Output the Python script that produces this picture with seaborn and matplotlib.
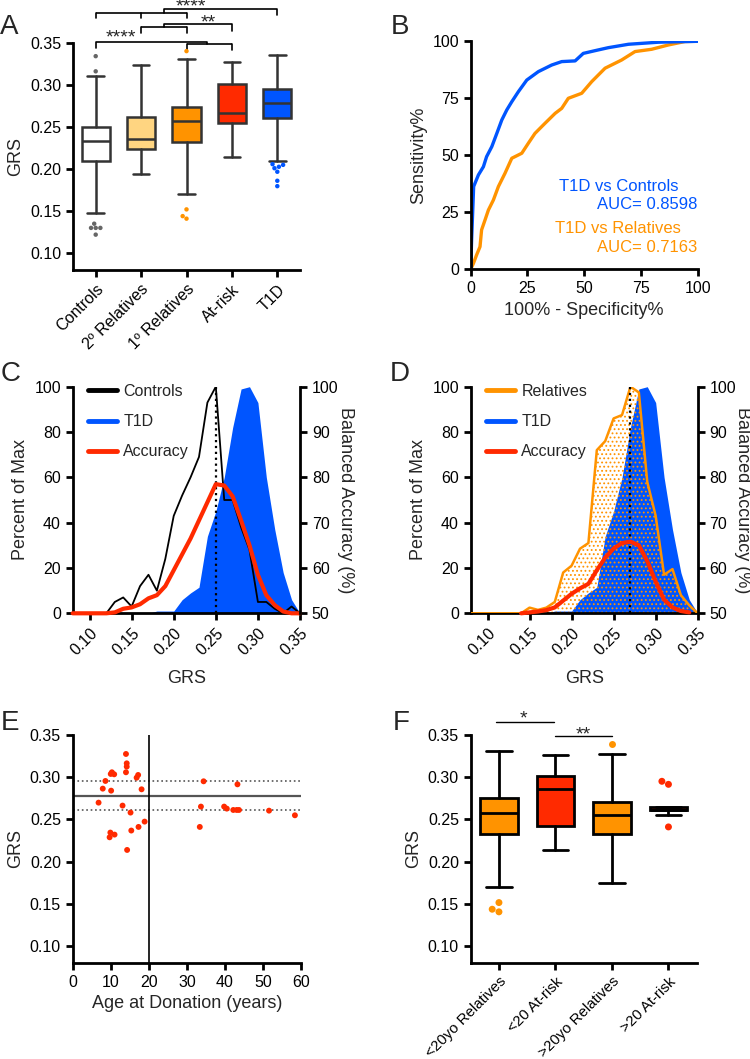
import numpy as np
import pandas as pd
import matplotlib
matplotlib.use("Agg")
import matplotlib.pyplot as plt
from matplotlib.lines import Line2D
import seaborn as sns

# ==========================================
# DATA
# ==========================================
# --- A: GRS by group (box stats) ---
GROUPS_A = ["Controls", "2º Relatives", "1º Relatives", "At-risk", "T1D"]
A_WHIS_LO = [0.148, 0.194, 0.170, 0.214, 0.210]
A_Q1 = [0.210, 0.224, 0.232, 0.255, 0.261]
A_MED = [0.233, 0.236, 0.2565, 0.266, 0.278]
A_Q3 = [0.250, 0.262, 0.2735, 0.3015, 0.295]
A_WHIS_HI = [0.310, 0.323, 0.331, 0.327, 0.335]
A_FLIER_GROUP = ["Controls"] * 7 + ["1º Relatives"] * 4 + ["T1D"] * 7
A_FLIER_VALUE = [0.334, 0.316, 0.135, 0.130, 0.130, 0.130, 0.122,
                 0.340, 0.152, 0.144, 0.141,
                 0.2057, 0.2049, 0.2026, 0.2009, 0.1967, 0.1860, 0.1796]
A_COLORS = ["#FFFFFF", "#FFD581", "#FF9300", "#FF2A00", "#0055FF"]
A_FLIER_COLORS = {"Controls": "#666666", "1º Relatives": "#FF9300", "T1D": "#0055FF"}

# --- B: ROC curves ---
ROC_CTRL_FPR = [0, 0.4, 1.3, 3.4, 5.6, 7, 9.3, 11.5, 13.7, 15.9, 18.1, 21, 24.7, 29.8,
                35.7, 40.1, 46, 49.6, 54.8, 60.6, 69.5, 82.7, 100]
ROC_CTRL_TPR = [0, 12.9, 36.3, 41.4, 45, 49.4, 53.8, 59.6, 65.5, 69.9, 73.5, 77.9, 83, 86.7,
                89.6, 91.1, 91.4, 94.7, 95.9, 97.2, 98.7, 99.6, 100]
ROC_REL_FPR = [0, 1.2, 2.6, 4.1, 4.8, 6.3, 7.8, 10, 12.2, 15.1, 18.1, 22.5, 25.4, 28.3, 32.7,
               37.2, 40.1, 43, 48.9, 53.3, 59.2, 66.5, 72.4, 79.7, 87.1, 94.4, 100]
ROC_REL_TPR = [0, 2.6, 6.3, 9.9, 17.3, 21.6, 26, 30.4, 36.3, 42.1, 48.7, 50.9, 55.3, 59.6, 64,
               68.4, 70.6, 75, 77.2, 82.3, 88.2, 91.8, 95.5, 96.5, 98.4, 99.9, 100]
AUC_CTRL = "0.8598"
AUC_REL = "0.7163"

# --- C / D: GRS distributions (percent of max) and balanced accuracy ---
GRS_BINS = [0.08, 0.09, 0.10, 0.11, 0.12, 0.13, 0.14, 0.15, 0.16, 0.17, 0.18, 0.19, 0.20, 0.21,
            0.22, 0.23, 0.24, 0.25, 0.26, 0.27, 0.28, 0.29, 0.30, 0.31, 0.32, 0.33, 0.34, 0.35]
CONTROLS_PCT = [0, 0, 0, 0, 0, 5, 7, 3, 12, 17, 10, 24, 43, 52,
                60, 69, 93, 100, 50, 50, 38, 28, 5, 5, 2, 0, 3, 0]
T1D_PCT = [0, 0, 0, 0, 0, 0, 0, 0, 0, 0, 1, 1, 1, 6,
           9, 11.5, 34, 45, 60, 82, 99, 100, 93, 60, 37, 18, 6, 0]
RELATIVES_PCT = [0, 0, 0, 0, 0, 0, 0, 2.5, 1.5, 2.5, 5, 18, 21, 28.5,
                 31, 72, 76, 86, 87.5, 100, 97.5, 58, 43, 17, 19.5, 8, 3.5, 0]
ACC_CTRL = [50, 50, 50, 50, 50, 50.2, 51, 51.3, 52, 53.3, 54, 56, 59.5, 63,
            66.5, 70.5, 74.5, 78.5, 78.2, 75.8, 70.5, 65, 58.5, 54, 51.8, 50.4, 50, 50]
ACC_REL = [np.nan, np.nan, np.nan, np.nan, np.nan, np.nan, 50, 50.2, 50.4, 50.7, 51.3, 52.8, 54.3, 55.5,
           56.5, 59.5, 62.3, 64.3, 65.5, 65.8, 65, 61.5, 57, 53, 51.3, 50.5, 50.2, np.nan]
CUTOFF_C = 0.25
CUTOFF_D = 0.27

# --- E: at-risk donors, GRS vs age ---
AGE_E = [6.8, 7.9, 8.6, 9.7, 9.9, 10.0, 10.1, 10.3, 10.9, 11.0, 13.1, 14.0, 14.2, 14.2, 14.0,
         14.3, 15.2, 15.4, 16.8, 17.2, 17.3, 18.1, 18.9,
         33.4, 33.7, 34.4, 39.8, 40.5, 42.2, 43.1, 43.3, 43.7, 51.6, 58.4]
GRS_E = [0.2698, 0.2864, 0.2955, 0.2287, 0.2343, 0.3038, 0.2840, 0.3058, 0.3034, 0.2319, 0.2663,
         0.3275, 0.3164, 0.3125, 0.3058, 0.2137, 0.2580, 0.2367, 0.2994, 0.3026, 0.2410, 0.2856,
         0.2473,
         0.2410, 0.2651, 0.2951, 0.2651, 0.2627, 0.2611, 0.2611, 0.2915, 0.2611, 0.2603, 0.2548]
AGE_CUT = 20

# --- F: split by age ---
GROUPS_F = ["<20yo Relatives", "<20 At-risk", ">20yo Relatives", ">20 At-risk"]
F_WHIS_LO = [0.1695, 0.2137, 0.1746, 0.2548]
F_Q1 = [0.2327, 0.2422, 0.2323, 0.2611]
F_MED = [0.2572, 0.2860, 0.2548, 0.2611]
F_Q3 = [0.2750, 0.3018, 0.2710, 0.2651]
F_WHIS_HI = [0.3310, 0.3267, 0.3279, 0.2651]
F_FLIER_GROUP = ["<20yo Relatives"] * 3 + [">20yo Relatives"] + [">20 At-risk"] * 3
F_FLIER_VALUE = [0.1513, 0.1434, 0.1403, 0.3397, 0.2951, 0.2915, 0.2410]
F_COLORS = ["#FF9300", "#FF2A00", "#FF9300", "#FF2A00"]
F_FLIER_COLORS = {"<20yo Relatives": "#FF9300", ">20yo Relatives": "#FF9300", ">20 At-risk": "#FF2A00"}

BLUE = "#0055FF"
ORANGE = "#FF9300"
RED = "#FF2A00"

# ==========================================
# STYLE
# ==========================================
sns.set_style("ticks")
plt.rcParams['font.family'] = ['Liberation Sans', 'DejaVu Sans']
plt.rcParams.update({
    'axes.linewidth': 2.0,
    'axes.edgecolor': 'black',
    'xtick.major.width': 2.0, 'ytick.major.width': 2.0,
    'xtick.major.size': 5, 'ytick.major.size': 5,
    'xtick.color': 'black', 'ytick.color': 'black',
    'xtick.labelsize': 11.5, 'ytick.labelsize': 11.5,
    'axes.labelsize': 13,
    'hatch.linewidth': 0.8,
})

W, H = 750, 1059
fig = plt.figure(figsize=(W / 100, H / 100), dpi=100)


def px_axes(left, top, right, bottom):
    return fig.add_axes([left / W, 1 - bottom / H, (right - left) / W, (bottom - top) / H])


def draw_boxes(ax, lo, q1, med, q3, hi, colors, edge, lw, width, capw):
    stats = [dict(whislo=a, q1=b, med=c, q3=d, whishi=e, fliers=[])
             for a, b, c, d, e in zip(lo, q1, med, q3, hi)]
    props = dict(color=edge, linewidth=lw)
    bp = ax.bxp(stats, positions=range(len(stats)), widths=width, capwidths=capw,
                patch_artist=True, showfliers=False,
                boxprops=dict(edgecolor=edge, linewidth=lw),
                medianprops=props, whiskerprops=props, capprops=props)
    for patch, c in zip(bp['boxes'], colors):
        patch.set_facecolor(c)


def bracket(ax, xs, y, drop, lw=1.2):
    # horizontal bar with downward ticks at every x in xs
    ax.plot([xs[0], xs[-1]], [y, y], color='black', lw=lw, clip_on=False, solid_capstyle='butt')
    for x in xs:
        ax.plot([x, x], [y, y - drop], color='black', lw=lw, clip_on=False)


# ==========================================
# A
# ==========================================
axA = px_axes(73, 42.7, 300, 270)
draw_boxes(axA, A_WHIS_LO, A_Q1, A_MED, A_Q3, A_WHIS_HI, A_COLORS, '#333333', 1.8, 0.62, 0.37)
fliersA = pd.DataFrame({'group': A_FLIER_GROUP, 'GRS': A_FLIER_VALUE})
sns.swarmplot(data=fliersA, x='group', y='GRS', order=GROUPS_A, hue='group',
              palette=A_FLIER_COLORS, size=3.2, legend=False, ax=axA)
axA.set_xlim(-0.5, 4.5)
axA.set_ylim(0.08, 0.35)
axA.set_yticks([0.10, 0.15, 0.20, 0.25, 0.30, 0.35])
axA.set_yticklabels(["0.10", "0.15", "0.20", "0.25", "0.30", "0.35"])
axA.set_xticks(range(5))
axA.set_xticklabels(GROUPS_A, rotation=45, ha='right', rotation_mode='anchor', fontsize=11.5)
axA.set_xlabel("")
axA.set_ylabel("GRS")
sns.despine(ax=axA)

# significance brackets
bracket(axA, [0, 1, 2], 0.3855, 0.0067)
axA.plot([1.5, 1.5, 4, 4], [0.3855, 0.3895, 0.3895, 0.3827], color='black', lw=1.2, clip_on=False)
axA.text(2.1, 0.4022, "****", ha='center', va='top', fontsize=14)
bracket(axA, [1, 2], 0.3682, 0.0071)
axA.plot([1.5, 1.5, 3, 3], [0.3682, 0.3721, 0.3721, 0.3642], color='black', lw=1.2, clip_on=False)
axA.text(2.47, 0.3832, "**", ha='center', va='top', fontsize=14)
bracket(axA, [2, 3], 0.3481, 0.0068)
axA.plot([0, 0, 2.45, 2.45], [0.3433, 0.3511, 0.3511, 0.3481], color='black', lw=1.2, clip_on=False)
axA.text(0.56, 0.3652, "****", ha='center', va='top', fontsize=14)

# ==========================================
# B
# ==========================================
axB = px_axes(470.7, 41.3, 697.7, 269.3)
sns.lineplot(x=ROC_REL_FPR, y=ROC_REL_TPR, sort=False, estimator=None, color=ORANGE, lw=2.4, ax=axB)
sns.lineplot(x=ROC_CTRL_FPR, y=ROC_CTRL_TPR, sort=False, estimator=None, color=BLUE, lw=2.4, ax=axB)
axB.set_xlim(0, 100)
axB.set_ylim(0, 100)
axB.set_xticks([0, 25, 50, 75, 100])
axB.set_yticks([0, 25, 50, 75, 100])
axB.set_xlabel("100% - Specificity%")
axB.set_ylabel("Sensitivity%")
sns.despine(ax=axB)
axB.text(39, 36.5, "T1D vs Controls", color=BLUE, fontsize=12, ha='left', va='center')
axB.text(100, 28.6, "AUC= " + AUC_CTRL, color=BLUE, fontsize=12, ha='right', va='center')
axB.text(37, 18.0, "T1D vs Relatives", color=ORANGE, fontsize=12, ha='left', va='center')
axB.text(100, 9.6, "AUC= " + AUC_REL, color=ORANGE, fontsize=12, ha='right', va='center')


# ==========================================
# C and D
# ==========================================
def dist_panel(ax, comp_pct, comp_label, comp_color, acc, cutoff, hatched):
    ax.fill_between(GRS_BINS, 0, T1D_PCT, color=BLUE, lw=0, zorder=1)
    if hatched:
        ax.fill_between(GRS_BINS, 0, comp_pct, facecolor='none', edgecolor=comp_color,
                        hatch='....', lw=0, zorder=2)
        sns.lineplot(x=GRS_BINS, y=comp_pct, color=comp_color, lw=1.8, ax=ax, zorder=3)
    else:
        sns.lineplot(x=GRS_BINS, y=comp_pct, color=comp_color, lw=1.3, ax=ax, zorder=3)
    ax.axvline(cutoff, color='black', ls=':', lw=1.6, zorder=4)
    ax.set_xlim(0.08, 0.35)
    ax.set_ylim(0, 100)
    ax.set_xticks([0.10, 0.15, 0.20, 0.25, 0.30, 0.35])
    ax.set_xticklabels(["0.10", "0.15", "0.20", "0.25", "0.30", "0.35"],
                       rotation=45, ha='right', rotation_mode='anchor')
    ax.set_yticks([0, 20, 40, 60, 80, 100])
    ax.set_xlabel("GRS", labelpad=9)
    ax.set_ylabel("Percent of Max")
    ax.spines['top'].set_visible(False)
    ax.spines['right'].set_visible(False)

    ax2 = ax.twinx()
    sns.lineplot(x=GRS_BINS, y=acc, color=RED, lw=3.0, ax=ax2, clip_on=False)
    ax2.set_ylim(50, 100)
    ax2.set_yticks([50, 60, 70, 80, 90, 100])
    ax2.set_ylabel("Balanced Accuracy (%)", rotation=270, labelpad=11)
    ax2.spines['top'].set_visible(False)
    ax2.spines['left'].set_visible(False)
    ax2.spines['bottom'].set_visible(False)

    handles = [Line2D([], [], color=comp_color, lw=3.5),
               Line2D([], [], color=BLUE, lw=3.5),
               Line2D([], [], color=RED, lw=3.5)]
    ax2.legend(handles, [comp_label, "T1D", "Accuracy"], loc='upper left',
               bbox_to_anchor=(0.068, 1.012), frameon=False, fontsize=11.5,
               handlelength=1.8, handletextpad=0.4, labelspacing=0.95,
               borderpad=0, borderaxespad=0)


axC = px_axes(72.7, 386.7, 300, 613.3)
dist_panel(axC, CONTROLS_PCT, "Controls", 'black', ACC_CTRL, CUTOFF_C, False)
axD = px_axes(470.7, 386.7, 697.7, 613.3)
dist_panel(axD, RELATIVES_PCT, "Relatives", ORANGE, ACC_REL, CUTOFF_D, True)

# ==========================================
# E
# ==========================================
axE = px_axes(72.7, 735, 301, 962.7)
axE.axhline(A_MED[4], color='#555555', lw=1.6, zorder=1)
axE.axhline(A_Q3[4], color='#555555', lw=1.2, ls=':', zorder=1)
axE.axhline(A_Q1[4], color='#555555', lw=1.2, ls=':', zorder=1)
axE.axvline(AGE_CUT, color='black', lw=1.2, zorder=1)
sns.scatterplot(x=AGE_E, y=GRS_E, color=RED, s=18, edgecolor='none', ax=axE, zorder=3)
axE.set_xlim(0, 60)
axE.set_ylim(0.08, 0.35)
axE.set_xticks([0, 10, 20, 30, 40, 50, 60])
axE.set_yticks([0.10, 0.15, 0.20, 0.25, 0.30, 0.35])
axE.set_yticklabels(["0.10", "0.15", "0.20", "0.25", "0.30", "0.35"])
axE.set_xlabel("Age at Donation (years)")
axE.set_ylabel("GRS")
sns.despine(ax=axE)

# ==========================================
# F
# ==========================================
axF = px_axes(470.7, 735, 696.7, 962.7)
draw_boxes(axF, F_WHIS_LO, F_Q1, F_MED, F_Q3, F_WHIS_HI, F_COLORS, 'black', 2.0, 0.66, 0.45)
fliersF = pd.DataFrame({'group': F_FLIER_GROUP, 'GRS': F_FLIER_VALUE})
sns.swarmplot(data=fliersF, x='group', y='GRS', order=GROUPS_F, hue='group',
              palette=F_FLIER_COLORS, size=5, legend=False, ax=axF)
axF.set_xlim(-0.5, 3.5)
axF.set_ylim(0.08, 0.35)
axF.set_yticks([0.10, 0.15, 0.20, 0.25, 0.30, 0.35])
axF.set_yticklabels(["0.10", "0.15", "0.20", "0.25", "0.30", "0.35"])
axF.set_xticks(range(4))
axF.set_xticklabels(GROUPS_F, rotation=45, ha='right', rotation_mode='anchor', fontsize=10.8)
axF.set_xlabel("")
axF.set_ylabel("GRS")
sns.despine(ax=axF)
axF.plot([-0.06, 0.97], [0.3658, 0.3658], color='black', lw=1.0, clip_on=False)
axF.text(0.44, 0.3785, "*", ha='center', va='top', fontsize=14)
axF.plot([1.0, 2.0], [0.3488, 0.3488], color='black', lw=1.0, clip_on=False)
axF.text(1.5, 0.3598, "**", ha='center', va='top', fontsize=14)

# panel letters
for letter, x, y in [("A", 0, 14), ("B", 391, 14), ("C", 1, 361),
                     ("D", 390, 361), ("E", 1, 710), ("F", 393, 710)]:
    fig.text(x / W, 1 - y / H, letter, fontsize=20, ha='left', va='top')

plt.savefig("out.png", dpi=100)
plt.close()
